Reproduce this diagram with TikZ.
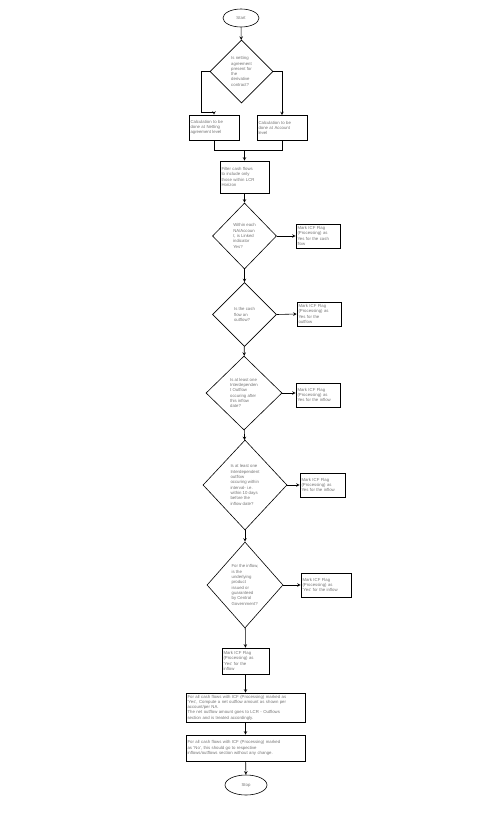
\documentclass[tikz,border=0pt]{standalone}
\usepackage{fontspec}
\setmainfont{Liberation Sans}
\usepackage{tikz}
\usetikzlibrary{shapes.geometric,arrows.meta}
\tikzset{>=stealth}
\newcommand{\flowfont}{\fontsize{4.3}{5.3}\selectfont}
\tikzset{%
    flowbox/.style={draw,line width=0.6pt,rectangle,inner sep=1.2pt,align=left,text=black!55,font=\flowfont},
    decision/.style={draw,line width=0.6pt,diamond,inner sep=0pt},
    dtext/.style={text=black!55,align=left,inner sep=0pt,font=\flowfont},
    terminal/.style={draw,line width=0.6pt,ellipse,inner sep=0pt,text=black!55,font=\flowfont},
    flow/.style={->,line width=0.6pt}
}

\begin{document}
\begin{tikzpicture}[x=1pt,y=-1pt]
    \useasboundingbox (0,0) rectangle (488,819);
    \node[terminal,minimum width=36pt,minimum height=18pt](start) at (241,18) {Start};
    \node[decision,minimum width=63pt,minimum height=63pt,
        label={[dtext]center:{Is netting\\agreement\\present for\\the\\derivative\\contract?}}](d1) at (241.5,71.5) {};
    \node[flowbox,minimum width=50pt,minimum height=25pt,text width=47pt](netbox) at (214,127.5)
        {Calculation to be\\done at Netting\\agreement level};
    \node[flowbox,minimum width=50pt,minimum height=25pt,text width=47pt](accbox) at (282,128)
        {Calculation to be\\done at Account\\level};
    \coordinate (lt) at (201,112);
    \coordinate (join) at (244.5,150);
    \node[flowbox,minimum width=49pt,minimum height=32pt,text width=46pt](filter) at (244.5,177)
        {Filter cash flows\\to include only\\those within LCR\\Horizon};
%   decisions down the middle
    \node[decision,minimum width=64pt,minimum height=66pt,
        label={[dtext]center:{Within each\\NA/Accoun\\t, is Linked\\indicator\\Yes?}}](d2) at (244.5,236) {};
    \node[decision,minimum width=64pt,minimum height=64pt,
        label={[dtext]center:{Is the cash\\flow an\\outflow?}}](d3) at (244.5,314.5) {};
    \node[decision,minimum width=76pt,minimum height=74pt,
        label={[dtext]center:{Is at least one\\Interdependen\\t Outflow\\occuring after\\this inflow\\date?}}](d4) at (244,393) {};
    \node[decision,minimum width=84pt,minimum height=90pt,
        label={[dtext]center:{Is at least one\\Interdependent\\outflow\\occuring within\\interval- i.e.\\within 10 days\\before the\\inflow date?}}](d5) at (245,485) {};
    \node[decision,minimum width=76pt,minimum height=86pt,
        label={[dtext]center:{For the inflow,\\is the\\underlying\\product\\issued or\\guaranteed\\by Central\\Government?}}](d6) at (245,585) {};
%   flag boxes on the right
    \node[flowbox,minimum width=44pt,minimum height=24pt,text width=41pt](flag2) at (318,236)
        {Mark ICF Flag\\(Processing) as\\Yes for the cash\\flow};
    \node[flowbox,minimum width=44pt,minimum height=24pt,text width=41pt](flag3) at (319,314)
        {Mark ICF Flag\\(Processing) as\\Yes for the\\outflow};
    \node[flowbox,minimum width=44pt,minimum height=24pt,text width=41pt](flag4) at (318,395)
        {Mark ICF Flag\\(Processing) as\\Yes for the inflow};
    \node[flowbox,minimum width=45pt,minimum height=24pt,text width=42pt](flag5) at (322.5,485)
        {Mark ICF Flag\\(Processing) as\\Yes for the inflow};
    \node[flowbox,minimum width=50pt,minimum height=24pt,text width=47pt](flag6) at (326,585)
        {Mark ICF Flag\\(Processing) as\\'Yes' for the inflow};
    \node[flowbox,minimum width=47pt,minimum height=26pt,text width=44pt](flag7) at (245.5,661)
        {Mark ICF Flag\\(Processing) as\\'Yes' for the\\inflow};
    \node[flowbox,minimum width=119pt,minimum height=29pt,text width=116pt](yesbox) at (245.5,707.5)
        {For all cash flows with ICF (Processing) marked as\\'Yes', Compute a net outflow amount as shown per\\account/per NA.\\The net outflow amount goes to LCR - Outflows\\section and is treated accordingly.};
    \node[flowbox,minimum width=119pt,minimum height=26pt,text width=116pt](nobox) at (245.5,748)
        {For all cash flows with ICF (Processing) marked\\as 'No', this should go to respective\\inflows/outflows section without any change.};
    \node[terminal,minimum width=42pt,minimum height=20pt](stop) at (246,785) {Stop};
%   connectors
    \draw[flow] (start) -- (d1);
    \draw[flow] (d1.west) -| (lt) -| (netbox.north);
    \draw[flow] (d1.east) -| (accbox.north);
    \draw[line width=0.6pt] (netbox.south) |- (join);
    \draw[line width=0.6pt] (accbox.south) |- (join);
    \draw[flow] (join) -- (filter.north);
    \draw[flow] (filter) -- (d2);
    \draw[flow] (d2) -- (d3);
    \draw[flow] (d3) -- (d4);
    \draw[flow] (d4) -- (d5);
    \draw[flow] (d5) -- (d6);
    \draw[flow] (d6) -- (flag7);
    \draw[flow] (d2.east) -- (flag2.west);
    \draw[flow] (d3.east) -- (flag3.west);
    \draw[flow] (d4.east) -- (flag4.west |- d4.east);
    \draw[flow] (d5.east) -- (flag5.west);
    \draw[flow] (d6.east) -- (flag6.west);
    \draw[flow] (flag7) -- (yesbox);
    \draw[flow] (yesbox) -- (nobox);
    \draw[flow] (nobox) -- (stop);
\end{tikzpicture}
\end{document}
